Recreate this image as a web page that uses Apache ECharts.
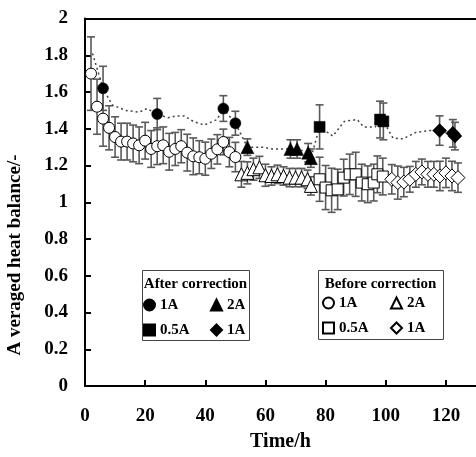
<!DOCTYPE html>
<html lang="en">
<head>
<meta charset="UTF-8">
<title>Averaged heat balance</title>
<script src="https://cdn.jsdelivr.net/npm/echarts@6/dist/echarts.min.js"></script>
<style>
  html, body { margin: 0; padding: 0; background: #fff; }
  #cc { width: 476px; height: 457px; }
</style>
</head>
<body>
<div id="cc"></div>
<script>
// ---- data ----
var xTicks = [0, 20, 40, 60, 80, 100, 120];

// after correction (filled markers)
var afterCircleX = [6, 24, 46, 50];
var afterCircleY = [1.62, 1.48, 1.51, 1.43];
var afterCircleE = [0.12, 0.085, 0.07, 0.065];

var afterTriX = [54, 68.3, 70.5, 74.2, 75.1];
var afterTriY = [1.30, 1.29, 1.29, 1.27, 1.24];
var afterTriE = [0.045, 0.05, 0.05, 0.05, 0.05];

var afterSqX = [78, 98.1, 99.2];
var afterSqY = [1.41, 1.45, 1.44];
var afterSqE = [0.12, 0.1, 0.1];

var afterDiaX = [117.9, 122.3, 123];
var afterDiaY = [1.39, 1.375, 1.36];
var afterDiaE = [0.08, 0.075, 0.075];

// dotted trend of the corrected values
var trendX = [2.5, 6, 9, 13.5, 18, 20.6, 24, 27.6, 30.4, 33, 36, 39.6, 43.9, 46, 50, 54, 59, 62.3, 66.7, 68.3, 70.5, 74.2, 75.1, 78, 82.4, 86.2, 90.5, 92.7, 96.5, 98.1, 99.2, 102.4, 105.7, 110, 114.4, 117.9, 122.3, 123];
var trendY = [1.81, 1.62, 1.53, 1.50, 1.49, 1.51, 1.48, 1.46, 1.47, 1.47, 1.44, 1.42, 1.45, 1.51, 1.43, 1.30, 1.30, 1.29, 1.29, 1.29, 1.29, 1.27, 1.24, 1.41, 1.36, 1.44, 1.45, 1.41, 1.41, 1.45, 1.44, 1.35, 1.345, 1.38, 1.39, 1.39, 1.375, 1.36];

// before correction (open markers)
var beforeCircleX = [2, 4, 6, 8, 10, 12, 14, 16, 18, 20, 22, 24, 26, 28, 30, 32, 34, 36, 38, 40, 42, 44, 46, 48, 50];
var beforeCircleY = [1.70, 1.52, 1.455, 1.405, 1.355, 1.33, 1.33, 1.32, 1.31, 1.335, 1.29, 1.305, 1.31, 1.275, 1.29, 1.305, 1.27, 1.25, 1.245, 1.237, 1.264, 1.288, 1.328, 1.273, 1.246];
var beforeCircleE = [0.2, 0.15, 0.15, 0.12, 0.11, 0.1, 0.1, 0.1, 0.1, 0.1, 0.1, 0.1, 0.1, 0.1, 0.09, 0.09, 0.1, 0.1, 0.09, 0.09, 0.08, 0.08, 0.07, 0.08, 0.08];

var beforeTriX = [52, 54, 56, 58, 60, 62, 64, 66, 68, 70, 72, 74, 75.1];
var beforeTriY = [1.152, 1.16, 1.18, 1.19, 1.147, 1.143, 1.152, 1.143, 1.134, 1.134, 1.134, 1.125, 1.089];
var beforeTriE = [0.07, 0.06, 0.06, 0.06, 0.06, 0.05, 0.05, 0.05, 0.05, 0.05, 0.05, 0.05, 0.05];

var beforeSqX = [78, 80, 82, 84, 86, 88, 90, 92, 94, 96, 97.2, 99];
var beforeSqY = [1.125, 1.08, 1.065, 1.07, 1.134, 1.152, 1.152, 1.107, 1.098, 1.107, 1.152, 1.14];
var beforeSqE = [0.12, 0.12, 0.12, 0.11, 0.1, 0.11, 0.12, 0.1, 0.1, 0.1, 0.1, 0.1];

var beforeDiaX = [102, 104, 106, 108, 110, 112, 114, 116, 118, 120, 122, 124];
var beforeDiaY = [1.125, 1.107, 1.11, 1.125, 1.152, 1.165, 1.152, 1.152, 1.143, 1.16, 1.143, 1.134];
var beforeDiaE = [0.08, 0.09, 0.08, 0.07, 0.07, 0.07, 0.07, 0.07, 0.08, 0.08, 0.08, 0.08];

var legendLabels = {
  'after-1A': '1A', 'after-2A': '2A', 'after-0.5A': '0.5A', 'after-1A-d': '1A',
  'before-1A': '1A', 'before-2A': '2A', 'before-0.5A': '0.5A', 'before-1A-d': '1A'
};

var FONT = '"Liberation Serif", "Times New Roman", serif';

function pts(xs, ys) {
  return xs.map(function (x, i) { return [x, ys[i]]; });
}
function bars(xs, ys, es) {
  return xs.map(function (x, i) { return [x, ys[i] - es[i], ys[i] + es[i]]; });
}

var errData = [].concat(
  bars(beforeCircleX, beforeCircleY, beforeCircleE),
  bars(beforeTriX, beforeTriY, beforeTriE),
  bars(beforeSqX, beforeSqY, beforeSqE),
  bars(beforeDiaX, beforeDiaY, beforeDiaE),
  bars(afterCircleX, afterCircleY, afterCircleE),
  bars(afterTriX, afterTriY, afterTriE),
  bars(afterSqX, afterSqY, afterSqE),
  bars(afterDiaX, afterDiaY, afterDiaE)
);

function scatter(name, symbol, size, data, filled) {
  return {
    name: name,
    type: 'scatter',
    symbol: symbol,
    symbolSize: size,
    data: data,
    z: filled ? 5 : 4,
    itemStyle: filled
      ? { color: '#000', borderColor: '#000', borderWidth: 0.5, opacity: 1 }
      : { color: '#fff', borderColor: '#000', borderWidth: 1, opacity: 1 },
    emphasis: { disabled: true }
  };
}

var chart = echarts.init(document.getElementById('cc'));

var axisLbl = { fontFamily: FONT, fontWeight: 'bold', fontSize: 19, color: '#000' };
var legendText = { fontFamily: FONT, fontWeight: 'bold', fontSize: 15, color: '#000', lineHeight: 16, width: 41 };

chart.setOption({
  animation: false,
  grid: { left: 85, right: -9, top: 18.5, bottom: 69 },
  xAxis: [{
    type: 'value', min: 0, max: 130, interval: 20,
    name: 'Time/h', nameLocation: 'middle', nameGap: 46,
    nameTextStyle: { fontFamily: FONT, fontWeight: 'bold', fontSize: 20, color: '#000' },
    splitLine: { show: false },
    axisLine: { lineStyle: { color: '#000', width: 2 } },
    axisTick: { inside: true, length: 6, lineStyle: { color: '#000', width: 2 }, customValues: xTicks },
    axisLabel: Object.assign({ margin: 21, customValues: xTicks }, axisLbl)
  }, {
    type: 'value', position: 'top', min: 0, max: 130,
    splitLine: { show: false },
    axisLine: { show: true, lineStyle: { color: '#000', width: 2 } },
    axisTick: { show: false }, axisLabel: { show: false }
  }],
  yAxis: {
    type: 'value', min: 0, max: 2, interval: 0.2,
    splitLine: { show: false },
    axisLine: { show: true, lineStyle: { color: '#000', width: 2 } },
    axisTick: { show: true, inside: true, length: 6, lineStyle: { color: '#000', width: 2 } },
    axisLabel: Object.assign({ margin: 17 }, axisLbl)
  },
  legend: [{
    data: ['after-1A', 'after-2A', 'after-0.5A', 'after-1A-d'],
    left: 143, top: 297, width: 130, orient: 'horizontal',
    itemWidth: 11, itemHeight: 11, itemGap: 9, padding: 0,
    textStyle: legendText, selectedMode: false,
    formatter: function (n) { return legendLabels[n]; }
  }, {
    data: ['before-1A', 'before-2A', 'before-0.5A', 'before-1A-d'],
    left: 322, top: 295, width: 134, orient: 'horizontal',
    itemWidth: 11, itemHeight: 11, itemGap: 9, padding: 0,
    textStyle: Object.assign({}, legendText, { width: 42 }), selectedMode: false,
    formatter: function (n) { return legendLabels[n]; }
  }],
  graphic: [
    { type: 'rect', shape: { x: 142.5, y: 270.5, width: 107, height: 70 },
      style: { fill: '#fff', stroke: '#444', lineWidth: 1 }, z: 1 },
    { type: 'rect', shape: { x: 318.5, y: 270.5, width: 125, height: 69 },
      style: { fill: '#fff', stroke: '#444', lineWidth: 1 }, z: 1 },
    { type: 'text', x: 195.5, y: 284, z: 2,
      style: { text: 'After correction', font: 'bold 15px ' + FONT, fill: '#000', align: 'center', verticalAlign: 'middle' } },
    { type: 'text', x: 380.5, y: 284, z: 2,
      style: { text: 'Before correction', font: 'bold 15px ' + FONT, fill: '#000', align: 'center', verticalAlign: 'middle' } },
    { type: 'text', x: 15, y: 255, rotation: Math.PI / 2, z: 2,
      style: { text: 'A veraged heat balance/-', font: 'bold 19px ' + FONT, fill: '#000', align: 'center', verticalAlign: 'middle' } }
  ],
  series: [
    {
      name: 'errors', type: 'custom', z: 2,
      encode: { x: 0, y: [1, 2] },
      data: errData,
      renderItem: function (params, api) {
        var x = api.value(0);
        var lo = api.coord([x, api.value(1)]);
        var hi = api.coord([x, api.value(2)]);
        var w = 4;
        var st = { stroke: '#5a5a5a', lineWidth: 1.6 };
        return {
          type: 'group',
          children: [
            { type: 'line', shape: { x1: lo[0], y1: lo[1], x2: hi[0], y2: hi[1] }, style: st },
            { type: 'line', shape: { x1: lo[0] - w, y1: lo[1], x2: lo[0] + w, y2: lo[1] }, style: st },
            { type: 'line', shape: { x1: hi[0] - w, y1: hi[1], x2: hi[0] + w, y2: hi[1] }, style: st }
          ]
        };
      }
    },
    {
      name: 'trend', type: 'line', z: 3,
      data: pts(trendX, trendY),
      symbol: 'none', smooth: false,
      lineStyle: { color: '#444', width: 1.5, type: [2, 3] },
      emphasis: { disabled: true }
    },
    scatter('before-1A', 'circle', 11, pts(beforeCircleX, beforeCircleY), false),
    scatter('before-2A', 'triangle', 13, pts(beforeTriX, beforeTriY), false),
    scatter('before-0.5A', 'rect', 11, pts(beforeSqX, beforeSqY), false),
    scatter('before-1A-d', 'diamond', 14, pts(beforeDiaX, beforeDiaY), false),
    scatter('after-1A', 'circle', 11, pts(afterCircleX, afterCircleY), true),
    scatter('after-2A', 'triangle', 13, pts(afterTriX, afterTriY), true),
    scatter('after-0.5A', 'rect', 11, pts(afterSqX, afterSqY), true),
    scatter('after-1A-d', 'diamond', 14, pts(afterDiaX, afterDiaY), true)
  ]
});
</script>
</body>
</html>
